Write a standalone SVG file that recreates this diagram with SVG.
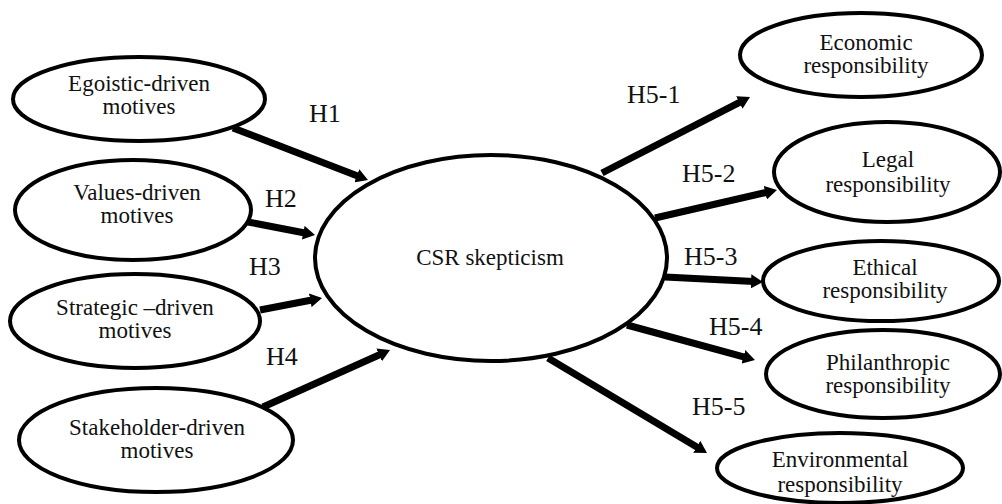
<svg xmlns="http://www.w3.org/2000/svg" width="1002" height="504" viewBox="0 0 1002 504">
<style>
.node ellipse{fill:#fff;stroke:#000;stroke-width:4}
text{font-family:'Liberation Serif','DejaVu Serif',serif;fill:#111}
.node text{font-size:23px;text-anchor:middle}
.lbl{font-size:26px}
.conn line{stroke:#000;stroke-width:7;marker-end:url(#ah)}
</style>
<defs>
<marker id="ah" markerUnits="userSpaceOnUse" markerWidth="13" markerHeight="14" refX="3" refY="7" orient="auto">
<path d="M0,0 L12,7 L0,14 z" fill="#000"/>
</marker>
</defs>
<rect width="1002" height="504" fill="#fff"/>
<g class="conn" id="connectors">
<line x1="233" y1="128" x2="359.6" y2="176.8"/>
<line x1="248" y1="222" x2="306.2" y2="233.3"/>
<line x1="260" y1="310" x2="313.2" y2="299.7"/>
<line x1="263" y1="407" x2="381.8" y2="353.7"/>
<line x1="602" y1="173" x2="742" y2="101.1"/>
<line x1="655" y1="218" x2="768.2" y2="192"/>
<line x1="665" y1="277" x2="754" y2="281.5"/>
<line x1="627" y1="325" x2="746.3" y2="357.6"/>
<line x1="548" y1="358" x2="699.3" y2="448.4"/>
</g>
<g id="labels">
<text class="lbl" x="309" y="122">H1</text>
<text class="lbl" x="265" y="207">H2</text>
<text class="lbl" x="249" y="275">H3</text>
<text class="lbl" x="266" y="365">H4</text>
<text class="lbl" x="627" y="103">H5-1</text>
<text class="lbl" x="682" y="182">H5-2</text>
<text class="lbl" x="684" y="265">H5-3</text>
<text class="lbl" x="709" y="335">H5-4</text>
<text class="lbl" x="692" y="415">H5-5</text>
</g>
<g class="node" id="csr"><ellipse cx="491" cy="258" rx="176" ry="103"/><text x="490" y="265">CSR skepticism</text></g>
<g class="node" id="egoistic"><ellipse cx="139" cy="99" rx="126" ry="42"/><text x="139" y="91">Egoistic-driven</text><text x="139" y="114">motives</text></g>
<g class="node" id="values"><ellipse cx="133" cy="210" rx="118" ry="50"/><text x="137" y="200">Values-driven</text><text x="137" y="223">motives</text></g>
<g class="node" id="strategic"><ellipse cx="135" cy="321" rx="125" ry="47"/><text x="135" y="315">Strategic –driven</text><text x="135" y="338">motives</text></g>
<g class="node" id="stakeholder"><ellipse cx="156" cy="440" rx="137" ry="52"/><text x="157" y="435">Stakeholder-driven</text><text x="157" y="458">motives</text></g>
<g class="node" id="economic"><ellipse cx="861" cy="55" rx="121" ry="42"/><text x="866" y="50">Economic</text><text x="866" y="73">responsibility</text></g>
<g class="node" id="legal"><ellipse cx="887" cy="172" rx="113" ry="50"/><text x="888" y="167">Legal</text><text x="888" y="192">responsibility</text></g>
<g class="node" id="ethical"><ellipse cx="881" cy="281" rx="118" ry="40"/><text x="885" y="275">Ethical</text><text x="885" y="298">responsibility</text></g>
<g class="node" id="philanthropic"><ellipse cx="883" cy="374" rx="117" ry="44"/><text x="888" y="370">Philanthropic</text><text x="888" y="393">responsibility</text></g>
<g class="node" id="environmental"><ellipse cx="840" cy="468" rx="123" ry="35"/><text x="840" y="467">Environmental</text><text x="840" y="492">responsibility</text></g>
</svg>
